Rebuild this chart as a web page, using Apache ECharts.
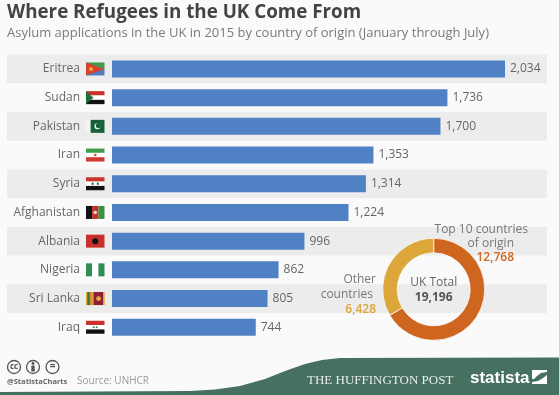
<!DOCTYPE html>
<html>
<head>
<meta charset="utf-8">
<style>
  html, body { margin: 0; padding: 0; background: #fafafa; }
  #chart { width: 559px; height: 395px; }
</style>
<script src="https://cdn.jsdelivr.net/npm/echarts@6/dist/echarts.min.js"></script>
</head>
<body>
<div id="chart"></div>
<script>
// 图表数据
const countries = ["Eritrea", "Sudan", "Pakistan", "Iran", "Syria", "Afghanistan", "Albania", "Nigeria", "Sri Lanka", "Iraq"];
const applications = [2034, 1736, 1700, 1353, 1314, 1224, 996, 862, 805, 744];
const donutNames = ["Top 10 countries of origin", "Other countries"];
const donutValues = [12768, 6428];
const ukTotal = 19196;

const font = "'Open Sans', sans-serif";
const blue = "#4f81c4";
const orange = "#cf6620";
const gold = "#dca63b";

const fmt = n => n.toLocaleString("en-US");

// 国旗：横条 + 附加图形，坐标按 0-1 比例，dot 为 [x, y, 颜色, 半径]
const flags = {
  Eritrea: { bands: ["#3f9c4c", "#4a7cc0"], poly: [[[0, 0], [1, 0.5], [0, 1]], "#d8412f"], dots: [[0.27, 0.5, "#e2b13c", 2]] },
  Sudan: { bands: ["#c8332e", "#ffffff", "#111111"], poly: [[[0, 0], [0.4, 0.5], [0, 1]], "#1f6f3a"] },
  Pakistan: { vbands: [[0.25, "#f4f4f4"], [0.75, "#17603a"]], dots: [[0.62, 0.5, "#ffffff", 3], [0.67, 0.44, "#17603a", 2.6]] },
  Iran: { bands: ["#3f9c4c", "#ffffff", "#d0392f"], dots: [[0.5, 0.5, "#c0504a", 1.3]] },
  Syria: { bands: ["#c8332e", "#ffffff", "#111111"], dots: [[0.36, 0.5, "#2c7a3f", 1.2], [0.64, 0.5, "#2c7a3f", 1.2]] },
  Afghanistan: { vbands: [[0.33, "#111111"], [0.34, "#c0302c"], [0.33, "#3f8f3c"]], dots: [[0.5, 0.5, "#e8d8c0", 1.8]] },
  Albania: { bands: ["#c8302c"], dots: [[0.5, 0.5, "#111111", 3]] },
  Nigeria: { vbands: [[0.33, "#2f8f52"], [0.34, "#ffffff"], [0.33, "#2f8f52"]] },
  "Sri Lanka": { bands: ["#e2ab3a"], vbands: [[0.07, "#e2ab3a"], [0.14, "#2c7a4a"], [0.14, "#e58a2c"], [0.06, "#e2ab3a"], [0.52, "#8c1f36"], [0.07, "#e2ab3a"]], dots: [[0.68, 0.5, "#e2ab3a", 2.4]] },
  Iraq: { bands: ["#c8332e", "#ffffff", "#111111"], dots: [[0.42, 0.5, "#3c8a4c", 1], [0.58, 0.5, "#3c8a4c", 1]] }
};

function renderFlag(params, api) {
  const name = countries[api.value(1)];
  const f = flags[name];
  const cy = api.coord([0, api.value(1)])[1];
  const w = 18.5, h = 13, x = 86, y = cy - h / 2;
  const children = [];
  (f.bands || []).forEach((c, i, arr) => {
    children.push({ type: "rect", shape: { x, y: y + i * h / arr.length, width: w, height: h / arr.length }, style: { fill: c } });
  });
  let vx = x;
  (f.vbands || []).forEach(b => {
    children.push({ type: "rect", shape: { x: vx, y, width: b[0] * w, height: h }, style: { fill: b[1] } });
    vx += b[0] * w;
  });
  if (f.poly) {
    children.push({ type: "polygon", shape: { points: f.poly[0].map(p => [x + p[0] * w, y + p[1] * h]) }, style: { fill: f.poly[1] } });
  }
  (f.dots || []).forEach(d => {
    children.push({ type: "circle", shape: { cx: x + d[0] * w, cy: y + d[1] * h, r: d[3] }, style: { fill: d[2] } });
  });
  return { type: "group", children };
}

function label(text, x, y, color, extra) {
  return {
    type: "text", x, y, z: 20,
    style: Object.assign({ text, fill: color, font: "12px " + font, textAlign: "left", textVerticalAlign: "middle" }, extra)
  };
}

function ccIcon(cx, inner) {
  return [
    { type: "circle", z: 20, shape: { cx, cy: 367, r: 6.5 }, style: { fill: "#fafafa", stroke: "#555", lineWidth: 1.3 } }
  ].concat(inner);
}

const chart = echarts.init(document.getElementById("chart"));

chart.setOption({
  backgroundColor: "#fafafa",
  animation: false,
  title: {
    text: "Where Refugees in the UK Come From",
    subtext: "Asylum applications in the UK in 2015 by country of origin (January through July)",
    left: 7, top: 3, padding: 0, itemGap: 5,
    textStyle: { fontFamily: font, fontSize: 18.8, fontWeight: "bold", color: "#444444" },
    subtextStyle: { fontFamily: font, fontSize: 13, color: "#7a7a7a" }
  },
  grid: [
    { left: 112, top: 54.6, width: 393, height: 287 },
    { left: 7, top: 54.6, width: 540, height: 287, z: 0 }
  ],
  xAxis: [
    { gridIndex: 0, type: "value", min: 0, max: 2034, show: false },
    { gridIndex: 1, type: "value", min: 0, max: 1, show: false }
  ],
  yAxis: [
    {
      gridIndex: 0, type: "category", inverse: true, data: countries, z: 3,
      axisLine: { show: false }, axisTick: { show: false },
      axisLabel: { margin: 32, padding: [4, 0, 0, 0], fontFamily: font, fontSize: 12, color: "#666666", interval: 0 }
    },
    {
      // 隔行灰色背景
      gridIndex: 1, type: "category", inverse: true, data: countries, z: 0,
      axisLine: { show: false }, axisTick: { show: false }, axisLabel: { show: false },
      splitLine: { show: false },
      splitArea: { show: true, interval: 0, areaStyle: { color: ["#ececec", "rgba(0,0,0,0)"] } }
    }
  ],
  series: [
    {
      name: "Applications", type: "bar", xAxisIndex: 0, yAxisIndex: 0, data: applications,
      barWidth: 17, z: 3, silent: true,
      itemStyle: { color: blue },
      label: {
        show: true, position: "right", distance: 5, padding: [4, 0, 0, 0],
        fontFamily: font, fontSize: 12, color: "#666666",
        formatter: p => fmt(p.value)
      }
    },
    {
      name: "Flags", type: "custom", xAxisIndex: 0, yAxisIndex: 0, z: 4, silent: true,
      clip: false,
      renderItem: renderFlag,
      data: countries.map((c, i) => [0, i])
    },
    {
      name: "UK Total", type: "pie", center: [433.7, 289.3], radius: [36.5, 51],
      startAngle: 90, clockwise: true, z: 5, silent: true,
      label: { show: false }, labelLine: { show: false },
      itemStyle: { borderColor: "#fafafa", borderWidth: 0.8 },
      data: [
        { name: donutNames[0], value: donutValues[0], itemStyle: { color: orange } },
        { name: donutNames[1], value: donutValues[1], itemStyle: { color: gold } }
      ]
    }
  ],
  graphic: [
    // 底部绿色条
    {
      type: "polygon", z: 10,
      shape: {
        points: [[0, 392], [190, 391], [215, 389.5], [240, 386], [265, 379], [285, 371], [305, 364], [322, 360], [340, 358], [559, 357.5], [559, 395], [0, 395]]
      },
      style: { fill: "#46705f" }
    },
    // 环形图文字
    label("UK Total", 433.7, 283, "#666666", { textAlign: "center" }),
    label(fmt(ukTotal), 433.7, 298, "#555555", { textAlign: "center", font: "bold 12px " + font }),
    label("Top 10 countries", 528, 230, "#777777", { textAlign: "right" }),
    label("of origin", 514, 244, "#777777", { textAlign: "right" }),
    label(fmt(donutValues[0]), 514, 258, orange, { textAlign: "right", font: "600 12px " + font }),
    label("Other", 376, 280, "#777777", { textAlign: "right" }),
    label("countries", 373, 295, "#777777", { textAlign: "right" }),
    label(fmt(donutValues[1]), 376, 310, gold, { textAlign: "right", font: "600 12px " + font }),
    // CC 图标
    ...ccIcon(14, [label("cc", 14, 366.5, "#555", { textAlign: "center", font: "bold 8px " + font })]),
    ...ccIcon(33, [
      { type: "circle", z: 21, shape: { cx: 33, cy: 363.5, r: 1.4 }, style: { fill: "#555" } },
      { type: "rect", z: 21, shape: { x: 31.3, y: 365.5, width: 3.4, height: 6 }, style: { fill: "#555" } }
    ]),
    ...ccIcon(52.5, [label("=", 52.5, 366.5, "#555", { textAlign: "center", font: "bold 10px " + font })]),
    label("@StatistaCharts", 7, 382, "#666666", { font: "bold 7.5px " + font }),
    label("Source: UNHCR", 77, 381.5, "#9a9a9a", { font: "10px " + font }),
    // 页脚标识
    label("THE HUFFINGTON POST", 307, 381, "#e8eeea", { font: "13px 'Liberation Serif', serif" }),
    label("statista", 470, 378, "#ffffff", { font: "bold 17px 'Liberation Sans', sans-serif" }),
    { type: "polygon", z: 20, shape: { points: [[532, 370], [547, 370], [547, 372], [541, 373], [537, 376], [534, 379], [532, 379]] }, style: { fill: "#ffffff" } },
    { type: "polygon", z: 20, shape: { points: [[547, 375], [547, 384], [532, 384], [532, 382], [538, 381], [543, 378]] }, style: { fill: "#ffffff" } }
  ]
});
</script>
</body>
</html>
